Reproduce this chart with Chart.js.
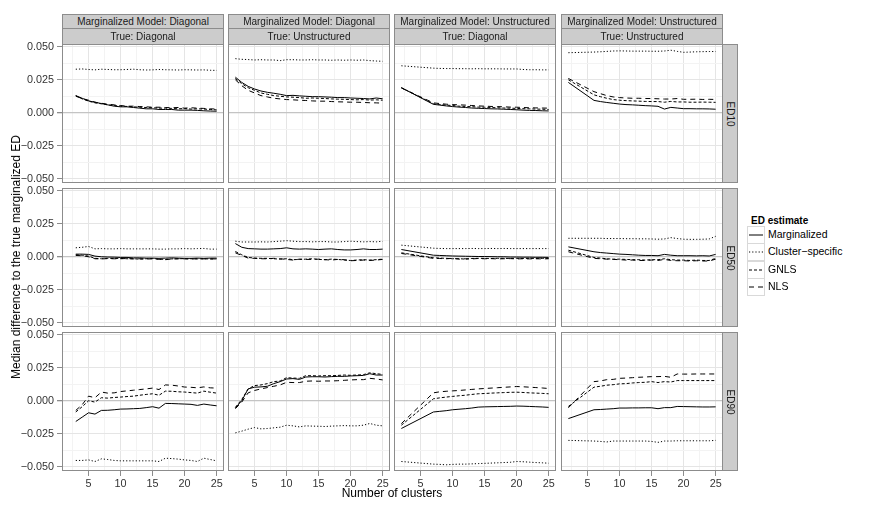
<!DOCTYPE html>
<html>
<head>
<meta charset="utf-8">
<script src="https://cdn.jsdelivr.net/npm/chart.js@4.4.1/dist/chart.umd.min.js"></script>
<style>
body { margin: 0; background: #fff; font-family: "Liberation Sans", Arial, sans-serif; }
#page { position: relative; width: 872px; height: 509px; overflow: hidden; }
.strip { position: absolute; box-sizing: border-box; background: #cccccc; border: 1px solid #8c8c8c;
  font-size: 10px; color: #1a1a1a; text-align: center; white-space: nowrap; }
.rstrip span { position: absolute; left: 50%; top: 50%; transform: translate(-50%, -50%) rotate(90deg); }
.title { position: absolute; font-size: 12px; color: #000; white-space: nowrap; }
.legend-title { position: absolute; left: 751px; top: 215px; font-size: 10px; font-weight: bold; }
.key { position: absolute; left: 747px; width: 18px; height: 18px; box-sizing: border-box; border: 1px solid #d9d9d9; background: #fff; }
.key-label { position: absolute; left: 768px; font-size: 10.5px; line-height: 17px; }
</style>
</head>
<body>
<div id="page"></div>
<script>
// facets
var modelLabels = ['Diagonal', 'Diagonal', 'Unstructured', 'Unstructured'];
var trueLabels = ['Diagonal', 'Unstructured', 'Diagonal', 'Unstructured'];
var rowLabels = ['ED10', 'ED50', 'ED90'];
var seriesNames = ['Marginalized', 'Cluster\u2212specific', 'GNLS', 'NLS'];
var seriesDash = [[], [1.2, 2], [3, 2], [5, 4]];

// number of clusters per column
var xDD = [3,4,5,6,7,8,9,10,11,12,13,14,15,16,17,18,19,20,21,22,23,24,25];
var xDU = [2,3,4,5,6,7,8,9,10,11,12,13,14,15,16,17,18,19,20,21,22,23,24,25];
var xUD = [2,7,8,9,10,11,12,13,14,15,16,17,18,19,20,21,22,23,24,25];
var xUU = [2,6,7,8,9,10,11,12,13,14,15,16,17,18,19,20,21,22,23,24,25];

// ticks
var xTickValues = [5, 10, 15, 20, 25];
var xTickLabels = ['5', '10', '15', '20', '25'];
var xMinorValues = [2.5, 7.5, 12.5, 17.5, 22.5];
var yTickValues = [-0.05, -0.025, 0, 0.025, 0.05];
var yTickLabels = ['\u22120.050', '\u22120.025', '0.000', '0.025', '0.050'];
var yMinorValues = [-0.0375, -0.0125, 0.0125, 0.0375];

// ED10
var ed10_dd_marg = [0.013,0.011,0.009,0.008,0.007,0.006,0.005,0.0045,0.0045,0.004,0.0035,0.003,0.003,0.0025,0.0025,0.0025,0.002,0.002,0.002,0.0018,0.0015,0.0013,0.0012];
var ed10_dd_clus = [0.033,0.0332,0.0328,0.0325,0.033,0.0328,0.0326,0.0326,0.0328,0.033,0.0326,0.0324,0.0325,0.0328,0.0326,0.0325,0.0324,0.0326,0.0325,0.0324,0.0325,0.0322,0.0321];
var ed10_dd_gnls = [0.013,0.0105,0.0088,0.0075,0.0068,0.006,0.0055,0.005,0.0048,0.0045,0.0042,0.004,0.0038,0.0035,0.0035,0.0033,0.003,0.0032,0.0028,0.003,0.0028,0.0025,0.0022];
var ed10_dd_nls = [0.0125,0.0108,0.0095,0.008,0.0072,0.0065,0.006,0.0055,0.005,0.005,0.0047,0.0045,0.0042,0.0042,0.004,0.0038,0.004,0.0035,0.0038,0.0035,0.0033,0.003,0.0028];

var ed10_du_marg = [0.027,0.023,0.020,0.018,0.0165,0.0155,0.0148,0.014,0.013,0.0132,0.0128,0.0125,0.0122,0.0122,0.012,0.0118,0.0115,0.0115,0.0112,0.011,0.0108,0.0105,0.0112,0.0106];
var ed10_du_clus = [0.041,0.0405,0.0403,0.040,0.0402,0.040,0.040,0.0395,0.0402,0.0402,0.040,0.040,0.0402,0.040,0.040,0.0398,0.040,0.0398,0.040,0.0398,0.040,0.0395,0.0392,0.039];
var ed10_du_gnls = [0.026,0.022,0.019,0.017,0.015,0.014,0.013,0.0125,0.012,0.0118,0.0115,0.011,0.0112,0.011,0.0108,0.0105,0.0103,0.0102,0.010,0.0098,0.010,0.0096,0.0098,0.0095];
var ed10_du_nls = [0.025,0.0205,0.017,0.015,0.013,0.012,0.011,0.0105,0.010,0.0098,0.0095,0.0093,0.009,0.0088,0.0088,0.0085,0.0083,0.0082,0.008,0.008,0.0078,0.0076,0.0075,0.0073];

var ed10_ud_marg = [0.019,0.0064,0.0058,0.0052,0.0047,0.0043,0.004,0.0036,0.0034,0.0032,0.003,0.0029,0.0027,0.0025,0.0023,0.002,0.0018,0.0017,0.0015,0.0014];
var ed10_ud_clus = [0.0356,0.0338,0.0336,0.0335,0.0335,0.0334,0.0334,0.0333,0.0334,0.0333,0.0333,0.0333,0.0332,0.0332,0.0332,0.0328,0.0326,0.0326,0.0325,0.0325];
var ed10_ud_gnls = [0.019,0.0068,0.0063,0.0058,0.0055,0.005,0.0048,0.0046,0.0043,0.0042,0.004,0.0038,0.0036,0.0035,0.0033,0.0031,0.003,0.0028,0.0027,0.0025];
var ed10_ud_nls = [0.0188,0.0075,0.007,0.0065,0.0062,0.006,0.0058,0.0055,0.0052,0.005,0.0048,0.0047,0.0045,0.0043,0.0042,0.004,0.0038,0.0037,0.0036,0.0035];

var ed10_uu_marg = [0.023,0.0094,0.0085,0.0078,0.0072,0.0066,0.0062,0.006,0.0057,0.0054,0.0052,0.0049,0.0028,0.0041,0.0036,0.0031,0.0031,0.003,0.003,0.0029,0.0027];
var ed10_uu_clus = [0.0455,0.046,0.0462,0.0465,0.0468,0.0469,0.0468,0.0467,0.0467,0.0467,0.0466,0.0466,0.0468,0.0474,0.0465,0.0458,0.046,0.0462,0.0463,0.0464,0.0464];
var ed10_uu_gnls = [0.025,0.0136,0.0122,0.011,0.010,0.0095,0.0092,0.009,0.0088,0.0086,0.0085,0.0085,0.008,0.0086,0.0082,0.0082,0.008,0.008,0.0081,0.008,0.0079];
var ed10_uu_nls = [0.026,0.016,0.0145,0.013,0.012,0.0115,0.0112,0.011,0.011,0.0108,0.0108,0.0106,0.0104,0.0104,0.0108,0.0102,0.0102,0.0103,0.0101,0.0102,0.0101];

// ED50
var ed50_dd_marg = [0.002,0.002,0.0018,0.0005,0.0,-0.0002,-0.0003,-0.0005,-0.0005,-0.0008,-0.0008,-0.001,-0.001,-0.0012,-0.001,-0.0008,-0.001,-0.0012,-0.0012,-0.001,-0.0012,-0.001,-0.001];
var ed50_dd_clus = [0.0068,0.0072,0.0078,0.006,0.0062,0.006,0.006,0.0062,0.006,0.006,0.006,0.006,0.006,0.0058,0.0058,0.006,0.006,0.0062,0.006,0.0062,0.0063,0.0058,0.0058];
var ed50_dd_gnls = [0.0015,0.0012,0.0005,-0.0012,-0.0015,-0.0012,-0.0013,-0.0012,-0.0015,-0.0015,-0.0018,-0.0015,-0.0013,-0.0018,-0.002,-0.0016,-0.0015,-0.0014,-0.0015,-0.0016,-0.0015,-0.0017,-0.0016];
var ed50_dd_nls = [0.001,0.0008,0.0,-0.0015,-0.0016,-0.0014,-0.0015,-0.0015,-0.0013,-0.0016,-0.0015,-0.0017,-0.0016,-0.0019,-0.0022,-0.0017,-0.0015,-0.0016,-0.0017,-0.0015,-0.0016,-0.0015,-0.0017];

var ed50_du_marg = [0.010,0.0072,0.0062,0.006,0.0058,0.0058,0.006,0.0062,0.0068,0.006,0.0058,0.006,0.0058,0.0055,0.0058,0.006,0.0055,0.0052,0.0052,0.0055,0.006,0.0055,0.0055,0.0058];
var ed50_du_clus = [0.0118,0.0112,0.0112,0.0112,0.0113,0.0112,0.0115,0.0118,0.0122,0.0118,0.0115,0.0115,0.0113,0.0115,0.0115,0.0112,0.0112,0.0115,0.0118,0.0115,0.0113,0.0115,0.0113,0.0118];
var ed50_du_gnls = [0.004,0.0015,-0.0005,-0.001,-0.0012,-0.0012,-0.0015,-0.0018,-0.0015,-0.0022,-0.002,-0.0018,-0.0015,-0.002,-0.0022,-0.0018,-0.002,-0.0025,-0.0028,-0.0025,-0.0022,-0.0025,-0.0022,-0.0018];
var ed50_du_nls = [0.003,0.001,-0.001,-0.0012,-0.0015,-0.0015,-0.0012,-0.0015,-0.002,-0.0025,-0.0018,-0.002,-0.002,-0.0018,-0.0022,-0.0025,-0.002,-0.0022,-0.003,-0.0028,-0.0025,-0.0028,-0.0025,-0.002];

var ed50_ud_marg = [0.0055,0.0012,0.001,0.0008,0.0006,0.0005,0.0004,0.0003,0.0002,0.0002,0.0001,0.0,0.0,-0.0002,-0.0002,-0.0003,-0.0003,-0.0004,-0.0004,-0.0005];
var ed50_ud_clus = [0.0088,0.0065,0.0063,0.0062,0.0062,0.0062,0.0062,0.0063,0.0062,0.0062,0.0063,0.0062,0.0063,0.0062,0.0062,0.0062,0.0062,0.0062,0.0062,0.0062];
var ed50_ud_gnls = [0.003,-0.0008,-0.001,-0.0012,-0.0015,-0.0014,-0.0018,-0.0013,-0.0012,-0.0012,-0.0013,-0.0012,-0.0012,-0.0013,-0.0012,-0.0013,-0.0012,-0.0013,-0.0012,-0.0012];
var ed50_ud_nls = [0.0025,-0.0012,-0.0013,-0.0015,-0.0012,-0.0018,-0.0015,-0.0016,-0.0013,-0.0015,-0.0014,-0.0016,-0.0015,-0.0014,-0.0016,-0.0015,-0.0016,-0.0015,-0.0016,-0.0015];

var ed50_uu_marg = [0.0075,0.0038,0.0032,0.0028,0.0024,0.002,0.0018,0.0015,0.0012,0.001,0.001,0.0008,0.0018,0.0012,0.0008,0.0008,0.0008,0.0007,0.0008,0.0006,0.0018];
var ed50_uu_clus = [0.014,0.014,0.014,0.0138,0.0138,0.0138,0.0137,0.0137,0.0136,0.0136,0.0135,0.0133,0.0135,0.0145,0.0138,0.0133,0.0132,0.0132,0.0133,0.0135,0.0155];
var ed50_uu_gnls = [0.005,-0.0005,-0.001,-0.0015,-0.0018,-0.0018,-0.002,-0.0022,-0.0022,-0.0025,-0.0022,-0.0022,-0.0015,-0.0022,-0.0025,-0.0025,-0.0028,-0.0025,-0.0028,-0.0028,-0.0012];
var ed50_uu_nls = [0.0038,-0.0012,-0.0015,-0.0018,-0.002,-0.0022,-0.0025,-0.0025,-0.0028,-0.0028,-0.0025,-0.0028,-0.002,-0.0028,-0.003,-0.003,-0.0032,-0.003,-0.0032,-0.0032,-0.0018];

// ED90
var ed90_dd_marg = [-0.0157,-0.0124,-0.0091,-0.0101,-0.0073,-0.0072,-0.0068,-0.0063,-0.0062,-0.006,-0.0058,-0.0052,-0.0045,-0.0056,-0.002,-0.0021,-0.0023,-0.0025,-0.0027,-0.0035,-0.0025,-0.0032,-0.0038];
var ed90_dd_clus = [-0.0452,-0.0452,-0.0448,-0.046,-0.044,-0.0445,-0.0452,-0.0455,-0.0455,-0.0455,-0.0455,-0.0455,-0.0455,-0.046,-0.0435,-0.0438,-0.0442,-0.0448,-0.0452,-0.046,-0.0435,-0.0445,-0.0455];
var ed90_dd_gnls = [-0.0085,-0.0045,0.0,-0.001,0.0023,0.002,0.0025,0.0028,0.0032,0.0035,0.0042,0.0048,0.0053,0.0042,0.0073,0.0072,0.0068,0.0066,0.0062,0.0058,0.0073,0.0065,0.0058];
var ed90_dd_nls = [-0.0073,-0.003,0.0035,0.0023,0.0066,0.0058,0.006,0.007,0.0075,0.008,0.0085,0.009,0.0096,0.0085,0.012,0.0118,0.0112,0.0104,0.0102,0.0098,0.0105,0.0098,0.0096];

var ed90_du_marg = [-0.0053,0.0,0.009,0.0103,0.0105,0.011,0.013,0.0145,0.0165,0.0168,0.0162,0.018,0.0182,0.0182,0.018,0.0183,0.0185,0.0185,0.0188,0.019,0.0192,0.0205,0.0195,0.0195];
var ed90_du_clus = [-0.0243,-0.023,-0.0215,-0.0203,-0.0213,-0.021,-0.0205,-0.020,-0.0185,-0.019,-0.0198,-0.019,-0.0192,-0.0193,-0.0195,-0.0192,-0.019,-0.0188,-0.019,-0.019,-0.0185,-0.0172,-0.0185,-0.019];
var ed90_du_gnls = [-0.005,0.001,0.009,0.0115,0.012,0.013,0.0145,0.015,0.0175,0.0172,0.017,0.019,0.019,0.0188,0.019,0.019,0.0192,0.0195,0.0193,0.0195,0.0198,0.0212,0.0205,0.020];
var ed90_du_nls = [-0.006,-0.001,0.006,0.0078,0.009,0.010,0.011,0.012,0.014,0.0138,0.0138,0.0148,0.015,0.0148,0.015,0.015,0.0152,0.0155,0.0158,0.016,0.016,0.017,0.0165,0.0158];

var ed90_ud_marg = [-0.021,-0.0085,-0.008,-0.0075,-0.0068,-0.0064,-0.006,-0.0055,-0.0048,-0.0046,-0.0045,-0.0044,-0.0043,-0.0042,-0.004,-0.0041,-0.0043,-0.0045,-0.0047,-0.005];
var ed90_ud_clus = [-0.046,-0.048,-0.0482,-0.0485,-0.0482,-0.048,-0.048,-0.0478,-0.0476,-0.0474,-0.0472,-0.047,-0.0468,-0.0466,-0.046,-0.0462,-0.0465,-0.0468,-0.047,-0.0473];
var ed90_ud_gnls = [-0.0185,0.0015,0.0022,0.0028,0.0033,0.0038,0.0042,0.0048,0.0053,0.0055,0.0058,0.006,0.0062,0.0064,0.0065,0.0063,0.006,0.0058,0.0056,0.0053];
var ed90_ud_nls = [-0.0173,0.006,0.0068,0.0072,0.0075,0.0078,0.0082,0.0086,0.009,0.0093,0.0096,0.0099,0.0102,0.0105,0.0108,0.0106,0.0103,0.010,0.0097,0.0093];

var ed90_uu_marg = [-0.0135,-0.0068,-0.0066,-0.0063,-0.006,-0.0055,-0.0055,-0.0054,-0.0054,-0.0053,-0.0053,-0.006,-0.0052,-0.0052,-0.0043,-0.0044,-0.0045,-0.0046,-0.0047,-0.0047,-0.0046];
var ed90_uu_clus = [-0.030,-0.0305,-0.0308,-0.0312,-0.0305,-0.0305,-0.0305,-0.0305,-0.0305,-0.0305,-0.0308,-0.0315,-0.0305,-0.0305,-0.0303,-0.0303,-0.0303,-0.0303,-0.0303,-0.0303,-0.030];
var ed90_uu_gnls = [-0.0043,0.0103,0.011,0.0118,0.0122,0.0128,0.013,0.0135,0.0138,0.014,0.0145,0.0138,0.0145,0.0142,0.0153,0.0153,0.0153,0.0153,0.0153,0.0153,0.0153];
var ed90_uu_nls = [-0.0053,0.0145,0.015,0.016,0.0162,0.017,0.0172,0.0175,0.0178,0.018,0.0183,0.0183,0.0185,0.0178,0.0203,0.0202,0.0202,0.0203,0.0203,0.0203,0.0203];

var colX = [xDD, xDU, xUD, xUU];
var panelSeries = [
  [[ed10_dd_marg, ed10_dd_clus, ed10_dd_gnls, ed10_dd_nls],
   [ed10_du_marg, ed10_du_clus, ed10_du_gnls, ed10_du_nls],
   [ed10_ud_marg, ed10_ud_clus, ed10_ud_gnls, ed10_ud_nls],
   [ed10_uu_marg, ed10_uu_clus, ed10_uu_gnls, ed10_uu_nls]],
  [[ed50_dd_marg, ed50_dd_clus, ed50_dd_gnls, ed50_dd_nls],
   [ed50_du_marg, ed50_du_clus, ed50_du_gnls, ed50_du_nls],
   [ed50_ud_marg, ed50_ud_clus, ed50_ud_gnls, ed50_ud_nls],
   [ed50_uu_marg, ed50_uu_clus, ed50_uu_gnls, ed50_uu_nls]],
  [[ed90_dd_marg, ed90_dd_clus, ed90_dd_gnls, ed90_dd_nls],
   [ed90_du_marg, ed90_du_clus, ed90_du_gnls, ed90_du_nls],
   [ed90_ud_marg, ed90_ud_clus, ed90_ud_gnls, ed90_ud_nls],
   [ed90_uu_marg, ed90_uu_clus, ed90_uu_gnls, ed90_uu_nls]]
];

// layout
var X_MIN = 0.85, X_MAX = 26.15, Y_MIN = -0.0532, Y_MAX = 0.0521;
var colLeft = [62, 228, 394, 561];
var rowTop = [44, 188, 332];
var PW = 162, PH = 139, YAX = 62, XAX = 30, M = 8;
var FONT = '"Liberation Sans", Arial, sans-serif';

Chart.defaults.font.family = FONT;

var panelBox = {
  id: 'panelBox',
  afterDatasetsDraw: function (chart) {
    var a = chart.chartArea, ctx = chart.ctx;
    ctx.save();
    ctx.strokeStyle = '#8c8c8c';
    ctx.lineWidth = 1;
    ctx.strokeRect(a.left + 0.5, a.top + 0.5, a.right - a.left - 1, a.bottom - a.top - 1);
    ctx.restore();
  }
};

function noPad(s) {
  s.paddingLeft = 0; s.paddingRight = 0; s.paddingTop = 0; s.paddingBottom = 0;
}

var page = document.getElementById('page');

rowLabels.forEach(function (rl, r) {
  colX.forEach(function (xs, c) {
    var showY = c === 0, showX = r === 2;
    var w = PW + (showY ? YAX : 0);
    var h = PH + 2 * M + (showX ? XAX : 0);
    var cv = document.createElement('canvas');
    cv.width = w; cv.height = h;
    cv.style.cssText = 'position:absolute;left:' + (colLeft[c] - (showY ? YAX : 0)) + 'px;top:' + (rowTop[r] - M) + 'px;width:' + w + 'px;height:' + h + 'px';
    page.appendChild(cv);

    var datasets = seriesNames.map(function (name, k) {
      return {
        label: name,
        data: xs.map(function (x, i) { return { x: x, y: panelSeries[r][c][k][i] }; }),
        borderColor: '#000',
        borderWidth: 1,
        borderDash: seriesDash[k],
        pointRadius: 0,
        fill: false,
        tension: 0
      };
    });

    new Chart(cv, {
      type: 'line',
      data: { datasets: datasets },
      plugins: [panelBox],
      options: {
        responsive: false,
        animation: false,
        events: [],
        layout: { padding: { top: M, bottom: M, left: 0, right: 0 } },
        plugins: { legend: { display: false }, tooltip: { enabled: false } },
        scales: {
          x: {
            type: 'linear', min: X_MIN, max: X_MAX,
            afterBuildTicks: function (s) {
              s.ticks = xMinorValues.concat(xTickValues).sort(function (a, b) { return a - b; })
                .map(function (v) { return { value: v }; });
            },
            afterFit: function (s) { s.height = showX ? XAX : 0; noPad(s); },
            border: { display: false },
            grid: {
              drawTicks: showX, tickLength: 5, lineWidth: 1,
              color: function (ctx) { return xTickValues.indexOf(ctx.tick.value) >= 0 ? '#e5e5e5' : '#f3f3f3'; },
              tickColor: function (ctx) { return xTickValues.indexOf(ctx.tick.value) >= 0 ? '#8c8c8c' : 'rgba(0,0,0,0)'; }
            },
            ticks: {
              display: showX, autoSkip: false, maxRotation: 0, minRotation: 0, padding: 2,
              color: '#333', font: { size: 10.8 },
              callback: function (v) { var i = xTickValues.indexOf(v); return i >= 0 ? xTickLabels[i] : ''; }
            }
          },
          y: {
            type: 'linear', min: Y_MIN, max: Y_MAX,
            afterBuildTicks: function (s) {
              s.ticks = yMinorValues.concat(yTickValues).sort(function (a, b) { return a - b; })
                .map(function (v) { return { value: v }; });
            },
            afterFit: function (s) { s.width = showY ? YAX : 0; noPad(s); },
            border: { display: false },
            grid: {
              drawTicks: showY, tickLength: 5,
              lineWidth: function (ctx) { return ctx.tick.value === 0 ? 1.3 : 1; },
              color: function (ctx) {
                if (ctx.tick.value === 0) return '#c4c4c4';
                return yTickValues.indexOf(ctx.tick.value) >= 0 ? '#e5e5e5' : '#f3f3f3';
              },
              tickColor: function (ctx) { return yTickValues.indexOf(ctx.tick.value) >= 0 ? '#8c8c8c' : 'rgba(0,0,0,0)'; }
            },
            ticks: {
              display: showY, autoSkip: false, padding: 3,
              color: '#333', font: { size: 10.8 },
              callback: function (v) { var i = yTickValues.indexOf(v); return i >= 0 ? yTickLabels[i] : ''; }
            }
          }
        }
      }
    });
  });
});

// column strips
modelLabels.forEach(function (m, c) {
  var s1 = document.createElement('div');
  s1.className = 'strip';
  s1.style.cssText = 'left:' + colLeft[c] + 'px;top:14px;width:' + PW + 'px;height:15px;line-height:13px';
  s1.textContent = 'Marginalized Model: ' + m;
  page.appendChild(s1);
  var s2 = document.createElement('div');
  s2.className = 'strip';
  s2.style.cssText = 'left:' + colLeft[c] + 'px;top:28px;width:' + PW + 'px;height:17px;line-height:15px';
  s2.textContent = 'True: ' + trueLabels[c];
  page.appendChild(s2);
});

// row strips
rowLabels.forEach(function (rl, r) {
  var s = document.createElement('div');
  s.className = 'strip rstrip';
  s.style.cssText = 'left:' + (colLeft[3] + PW - 1) + 'px;top:' + rowTop[r] + 'px;width:16px;height:' + PH + 'px';
  var sp = document.createElement('span');
  sp.textContent = rl;
  s.appendChild(sp);
  page.appendChild(s);
});

// axis titles
var xt = document.createElement('div');
xt.className = 'title';
xt.textContent = 'Number of clusters';
xt.style.cssText = 'left:392px;top:493px;transform:translate(-50%,-50%)';
page.appendChild(xt);
var yt = document.createElement('div');
yt.className = 'title';
yt.textContent = 'Median difference to the true marginalized ED';
yt.style.cssText = 'left:16px;top:257px;transform:translate(-50%,-50%) rotate(-90deg)';
page.appendChild(yt);

// legend
var lt = document.createElement('div');
lt.className = 'legend-title';
lt.textContent = 'ED estimate';
page.appendChild(lt);
seriesNames.forEach(function (name, k) {
  var top = 226 + k * 17.4;
  var key = document.createElement('div');
  key.className = 'key';
  key.style.top = top + 'px';
  key.innerHTML = '<svg width="16" height="16" style="position:absolute;left:0;top:0">' +
    '<line x1="1" y1="8" x2="15" y2="8" stroke="#000" stroke-width="1" stroke-dasharray="' +
    (seriesDash[k].length ? seriesDash[k].join(',') : 'none') + '"/></svg>';
  page.appendChild(key);
  var lab = document.createElement('div');
  lab.className = 'key-label';
  lab.style.top = top + 'px';
  lab.textContent = name;
  page.appendChild(lab);
});
</script>
</body>
</html>
